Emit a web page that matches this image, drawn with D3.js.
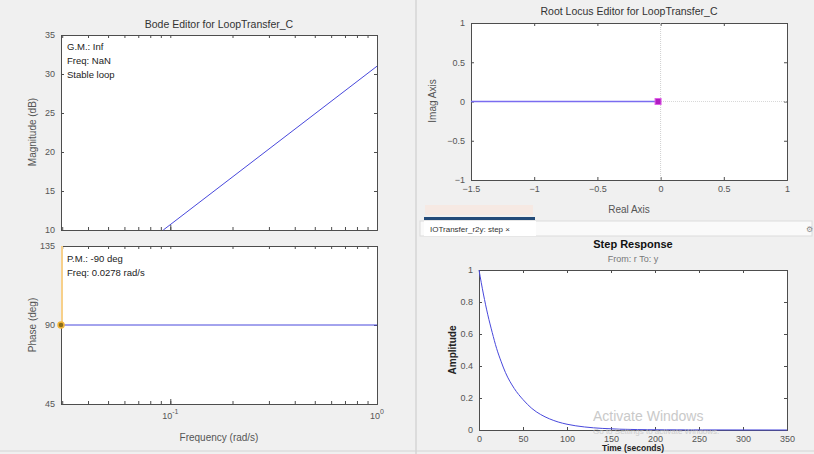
<!DOCTYPE html>
<html>
<head>
<meta charset="utf-8" />
<script src="https://d3js.org/d3.v7.min.js"></script>
<style>
  body { margin: 0; background: #f0f0f0; }
  svg { display: block; font-family: "Liberation Sans", Arial, sans-serif; }
  .tick text { fill: #555; font-size: 9px; }
  .tick line { stroke: #4d4d4d; }
  .domain { stroke: #4d4d4d; }
</style>
</head>
<body>
<div id="chart"></div>
<script>
// ---- data ----
var magFreq = [0.0925, 1.0];
var magDb = [10, 31];
var phaseFreq = [0.0296, 1.0];
var phaseDeg = [90, 90];
var freqDomain = [0.0296, 1];
var magTicks = [10, 15, 20, 25, 30, 35];
var phaseTicks = [45, 90, 135];
var freqTicks = [0.1, 1];
var freqTickLabels = ["-1", "0"];
var gmText = ["G.M.: Inf", "Freq: NaN", "Stable loop"];
var pmText = ["P.M.: -90 deg", "Freq: 0.0278 rad/s"];
var pmFreq = 0.0296, pmPhase = 90;

var rlReal = [-1.5, 0];
var rlImag = [0, 0];
var rlPoleRe = -0.02, rlPoleIm = 0;
var rlXTicks = [-1.5, -1, -0.5, 0, 0.5, 1];
var rlYTicks = [-1, -0.5, 0, 0.5, 1];

var stepTime = [0, 5, 10, 15, 20, 25, 30, 40, 50, 60, 70, 80, 90, 100, 120, 140, 160, 200, 250, 350];
var stepAmp = [1, 0.85, 0.72, 0.61, 0.51, 0.43, 0.36, 0.26, 0.19, 0.135, 0.097, 0.07, 0.05, 0.036, 0.019, 0.01, 0.005, 0.0015, 0.0005, 0];
var stepXTicks = [0, 50, 100, 150, 200, 250, 300, 350];
var stepYTicks = [0, 0.2, 0.4, 0.6, 0.8, 1];

var W = 814, H = 454;
var svg = d3.select("#chart").append("svg").attr("width", W).attr("height", H);

svg.append("rect").attr("width", W).attr("height", H).attr("fill", "#f0f0f0");
// panel divider and bottom border
svg.append("line").attr("x1", 416).attr("x2", 416).attr("y1", 0).attr("y2", H).attr("stroke", "#c8c8c8");
svg.append("line").attr("x1", 0).attr("x2", W).attr("y1", 451).attr("y2", 451).attr("stroke", "#d4d4d4");

var lineBlue = "#4848dc";

// generic boxed axes, MATLAB style (ticks inside, on all sides)
function boxAxes(x, y, xt, yt, xfmt, yfmt, showXLabels) {
  var x0 = x.range()[0], x1 = x.range()[1], y0 = y.range()[1], y1 = y.range()[0];
  var g = svg.append("g");
  g.append("rect").attr("x", x0).attr("y", y0).attr("width", x1 - x0).attr("height", y1 - y0)
    .attr("fill", "#fff");
  g.append("g").attr("transform", "translate(0," + y1 + ")")
    .call(d3.axisBottom(x).tickValues(xt).tickSize(-3).tickPadding(6).tickFormat(showXLabels ? xfmt : ""));
  g.append("g").attr("transform", "translate(0," + y0 + ")")
    .call(d3.axisTop(x).tickValues(xt).tickSize(-3).tickFormat(""));
  g.append("g").attr("transform", "translate(" + x0 + ",0)")
    .call(d3.axisLeft(y).tickValues(yt).tickSize(-3).tickPadding(6).tickFormat(yfmt));
  g.append("g").attr("transform", "translate(" + x1 + ",0)")
    .call(d3.axisRight(y).tickValues(yt).tickSize(-3).tickFormat(""));
  g.selectAll(".domain").attr("stroke", "#666");
  return g;
}

// ---------- Bode magnitude ----------
var xb = d3.scaleLog().domain(freqDomain).range([61, 377]);
var ym = d3.scaleLinear().domain([10, 35]).range([230, 35]);
var minorF = xb.ticks();
boxAxes(xb, ym, minorF, magTicks, "", d3.format("d"), false);
svg.append("g").attr("transform", "translate(0,230)")
  .call(d3.axisBottom(xb).tickValues(freqTicks).tickSize(-5).tickFormat("")).select(".domain").remove();

svg.append("text").attr("x", 219).attr("y", 28).attr("text-anchor", "middle")
  .attr("font-size", 10.5).attr("fill", "#333").text("Bode Editor for LoopTransfer_C");
svg.append("text").attr("transform", "translate(36,132) rotate(-90)").attr("text-anchor", "middle")
  .attr("font-size", 10).attr("fill", "#555").text("Magnitude (dB)");
svg.selectAll(".gm").data(gmText).enter().append("text")
  .attr("x", 67).attr("y", function (d, i) { return 50 + i * 14; })
  .attr("font-size", 9.5).attr("fill", "#222").text(function (d) { return d; });

svg.append("path")
  .datum(magFreq.map(function (f, i) { return [f, magDb[i]]; }))
  .attr("d", d3.line().x(function (d) { return xb(d[0]); }).y(function (d) { return ym(d[1]); }))
  .attr("fill", "none").attr("stroke", lineBlue).attr("stroke-width", 1);

// ---------- Bode phase ----------
var yp = d3.scaleLinear().domain([45, 135]).range([404, 246]);
boxAxes(xb, yp, minorF, phaseTicks, "", d3.format("d"), false);
svg.append("g").attr("transform", "translate(0,404)")
  .call(d3.axisBottom(xb).tickValues(freqTicks).tickSize(-5).tickFormat("")).select(".domain").remove();
freqTicks.forEach(function (f, i) {
  var t = svg.append("text").attr("x", xb(f)).attr("y", 419).attr("text-anchor", "middle")
    .attr("font-size", 9).attr("fill", "#555");
  t.append("tspan").text("10");
  t.append("tspan").attr("dy", -5).attr("font-size", 7).text(freqTickLabels[i]);
});
svg.append("text").attr("x", 219).attr("y", 441).attr("text-anchor", "middle")
  .attr("font-size", 10).attr("fill", "#555").text("Frequency (rad/s)");
svg.append("text").attr("transform", "translate(36,325) rotate(-90)").attr("text-anchor", "middle")
  .attr("font-size", 10).attr("fill", "#555").text("Phase (deg)");
svg.selectAll(".pm").data(pmText).enter().append("text")
  .attr("x", 67).attr("y", function (d, i) { return 262 + i * 14; })
  .attr("font-size", 9.5).attr("fill", "#222").text(function (d) { return d; });

svg.append("line").attr("x1", xb(pmFreq) + 1).attr("x2", xb(pmFreq) + 1)
  .attr("y1", yp(135)).attr("y2", yp(pmPhase))
  .attr("stroke", "#f7d08a").attr("stroke-width", 2);
svg.append("path")
  .datum(phaseFreq.map(function (f, i) { return [f, phaseDeg[i]]; }))
  .attr("d", d3.line().x(function (d) { return xb(d[0]); }).y(function (d) { return yp(d[1]); }))
  .attr("fill", "none").attr("stroke", lineBlue).attr("stroke-width", 1);
svg.append("circle").attr("cx", xb(pmFreq)).attr("cy", yp(pmPhase)).attr("r", 3)
  .attr("fill", "#8a6d1c").attr("stroke", "#f2b53a").attr("stroke-width", 1.5);

// ---------- Root locus ----------
var xr = d3.scaleLinear().domain([-1.5, 1]).range([471, 787]);
var yr = d3.scaleLinear().domain([-1, 1]).range([180, 23]);
boxAxes(xr, yr, rlXTicks, rlYTicks, d3.format("~g"), d3.format("~g"), true);
svg.append("line").attr("x1", xr(0)).attr("x2", xr(0)).attr("y1", yr(1)).attr("y2", yr(-1))
  .attr("stroke", "#cfcfcf").attr("stroke-dasharray", "1,1");
svg.append("line").attr("x1", xr(-1.5)).attr("x2", xr(1)).attr("y1", yr(0)).attr("y2", yr(0))
  .attr("stroke", "#d8d8d8").attr("stroke-dasharray", "1,1");
svg.append("path")
  .datum(rlReal.map(function (r, i) { return [r, rlImag[i]]; }))
  .attr("d", d3.line().x(function (d) { return xr(d[0]); }).y(function (d) { return yr(d[1]); }))
  .attr("fill", "none").attr("stroke", "#7a6cf0").attr("stroke-width", 1.6);
svg.append("rect").attr("x", xr(rlPoleRe) - 3).attr("y", yr(rlPoleIm) - 3).attr("width", 6).attr("height", 6)
  .attr("fill", "#b01cc0").attr("stroke", "#e060e8");
svg.append("text").attr("x", 629).attr("y", 15).attr("text-anchor", "middle")
  .attr("font-size", 10.5).attr("fill", "#333").text("Root Locus Editor for LoopTransfer_C");
svg.append("text").attr("x", 629).attr("y", 213).attr("text-anchor", "middle")
  .attr("font-size", 10).attr("fill", "#555").text("Real Axis");
svg.append("text").attr("transform", "translate(436,101) rotate(-90)").attr("text-anchor", "middle")
  .attr("font-size", 10).attr("fill", "#555").text("Imag Axis");

// ---------- tab strip ----------
svg.append("rect").attr("x", 425).attr("y", 205).attr("width", 108).attr("height", 10).attr("fill", "#f6e9e3");
svg.append("rect").attr("x", 420).attr("y", 221).attr("width", 392).attr("height", 15)
  .attr("fill", "#fafafa").attr("stroke", "#dcdcdc");
svg.append("rect").attr("x", 424).attr("y", 221).attr("width", 112).attr("height", 15).attr("fill", "#fff");
svg.append("rect").attr("x", 424).attr("y", 217).attr("width", 111).attr("height", 3).attr("fill", "#234a78");
svg.append("text").attr("x", 430).attr("y", 232).attr("font-size", 8).attr("fill", "#333")
  .text("IOTransfer_r2y: step  \u00d7");
svg.append("text").attr("x", 806).attr("y", 232).attr("font-size", 8).attr("fill", "#888").text("\u2699");

// ---------- Step response ----------
var xs = d3.scaleLinear().domain([0, 350]).range([479, 787]);
var ys = d3.scaleLinear().domain([0, 1]).range([430, 270]);
boxAxes(xs, ys, stepXTicks, stepYTicks, d3.format("d"), d3.format("~g"), true);
svg.append("text").attr("x", 633).attr("y", 248).attr("text-anchor", "middle")
  .attr("font-size", 11).attr("font-weight", "bold").attr("fill", "#111").text("Step Response");
svg.append("text").attr("x", 633).attr("y", 262).attr("text-anchor", "middle")
  .attr("font-size", 9).attr("fill", "#777").text("From: r  To: y");
svg.append("text").attr("transform", "translate(456,350) rotate(-90)").attr("text-anchor", "middle")
  .attr("font-size", 10).attr("font-weight", "bold").attr("fill", "#222").text("Amplitude");
svg.append("text").attr("x", 633).attr("y", 451).attr("text-anchor", "middle")
  .attr("font-size", 8.5).attr("font-weight", "bold").attr("fill", "#222").text("Time (seconds)");

svg.append("path")
  .datum(stepTime.map(function (t, i) { return [t, stepAmp[i]]; }))
  .attr("d", d3.line().curve(d3.curveMonotoneX)
    .x(function (d) { return xs(d[0]); }).y(function (d) { return ys(d[1]); }))
  .attr("fill", "none").attr("stroke", lineBlue).attr("stroke-width", 1);

// windows watermark
svg.append("text").attr("x", 593).attr("y", 421).attr("font-size", 14).attr("fill", "#c4c4c4")
  .attr("opacity", 0.9).text("Activate Windows");
svg.append("text").attr("x", 593).attr("y", 434).attr("font-size", 8).attr("fill", "#c4c4c4")
  .attr("opacity", 0.8).text("Go to Settings to activate Windows.");
</script>
</body>
</html>
